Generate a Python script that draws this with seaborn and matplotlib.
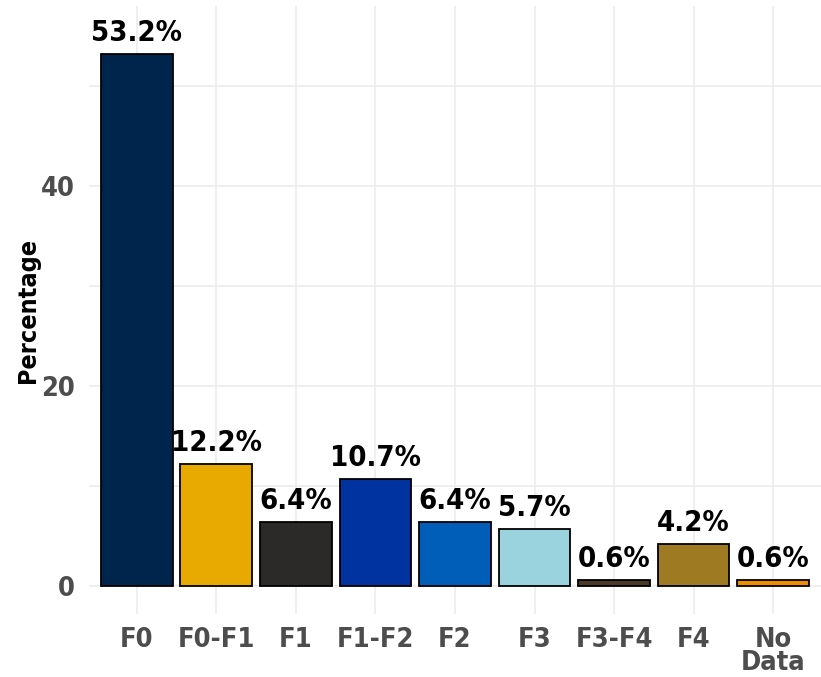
import numpy as np
import pandas as pd
import matplotlib
matplotlib.use("Agg")
import matplotlib.pyplot as plt
import seaborn as sns

# ── data ────────────────────────────────────────────────────
CATEGORIES = ["F0", "F0-F1", "F1", "F1-F2", "F2", "F3", "F3-F4", "F4", "No\nData"]
PERCENTS   = [53.2, 12.2, 6.4, 10.7, 6.4, 5.7, 0.6, 4.2, 0.6]
COLORS     = ["#00254D", "#E8A900", "#2B2A28", "#0033A0", "#005EB8",
              "#9AD3DD", "#4A3B28", "#9E7B22", "#F08C00"]

df = pd.DataFrame({"stage": CATEGORIES, "pct": PERCENTS})

sns.set_theme(style="whitegrid", rc={"grid.color": "#EBEBEB", "grid.linewidth": 1.1})
plt.rcParams["font.family"] = ["DejaVu Sans"]
plt.rcParams["font.stretch"] = "condensed"
plt.rcParams["font.weight"] = "bold"

fig = plt.figure(figsize=(8.21, 6.77), dpi=100)
ax = fig.add_axes([0.1084, 0.0937, 0.8916, 0.8968])

sns.barplot(data=df, x="stage", y="pct", hue="stage", palette=COLORS,
            legend=False, width=0.9, edgecolor="black", linewidth=1.3,
            saturation=1, ax=ax)

# value labels above bars
for i, v in enumerate(PERCENTS):
    ax.text(i, v + 0.7, f"{v:.1f}%", ha="center", va="bottom",
            fontsize=21, fontweight="bold", fontstretch="condensed", color="black")

ax.set_xlim(-0.6, 8.6)
ax.set_ylim(-2.76, 57.96)
ax.set_yticks([0, 20, 40])
ax.set_yticks([10, 30, 50], minor=True)
ax.grid(True, which="both", axis="y", color="#EBEBEB", linewidth=1.1)
ax.grid(True, which="major", axis="x", color="#EBEBEB", linewidth=1.1)
ax.set_axisbelow(True)
for s in ax.spines.values():
    s.set_visible(False)

ax.tick_params(axis="both", which="major", length=4, width=1, color="#333333",
               labelsize=19.5, labelcolor="#4D4D4D", pad=6)
ax.tick_params(axis="y", which="minor", length=0)
ax.tick_params(axis="x", pad=6)
for lab in ax.get_xticklabels() + ax.get_yticklabels():
    lab.set_fontweight("bold")
    lab.set_fontstretch("condensed")
    lab.set_linespacing(0.85)

ax.set_xlabel("")
ax.set_ylabel("Percentage", fontsize=18, fontweight="bold", fontstretch="condensed",
              color="black")
ax.yaxis.set_label_coords(-0.067, 0.5)

fig.savefig("out.png", dpi=100)
